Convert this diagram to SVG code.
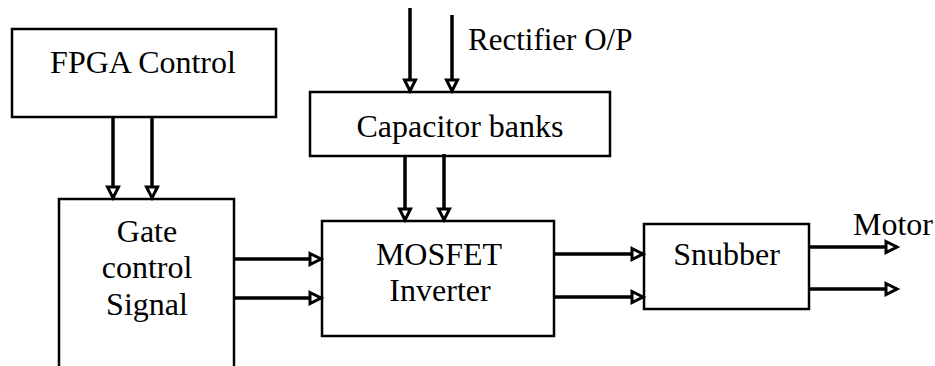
<svg xmlns="http://www.w3.org/2000/svg" width="935" height="366" viewBox="0 0 935 366">
<style>
.box{fill:#fff;stroke:#000;stroke-width:2.5}
.lbl{font-family:'Liberation Serif','Times New Roman',serif;font-size:32px;fill:#000;text-anchor:middle}
.wire{stroke:#000;stroke-width:3.5;fill:none;marker-end:url(#ah)}
</style>
<defs>
<marker id="ah" markerUnits="userSpaceOnUse" markerWidth="16" markerHeight="16" refX="12" refY="6.5" orient="auto" overflow="visible">
<path d="M1,1 L12,6.5 L1,12 Z" fill="#fff" stroke="#000" stroke-width="3" stroke-linejoin="miter"/>
</marker>
</defs>
<rect width="935" height="366" fill="#fff"/>
<g id="fpga">
<rect class="box" x="12" y="29" width="264" height="88"/>
<text class="lbl" x="143" y="73">FPGA Control</text>
</g>
<g id="gate">
<rect class="box" x="59" y="199" width="175" height="190"/>
<text class="lbl" x="147" y="242">Gate</text>
<text class="lbl" x="147" y="278">control</text>
<text class="lbl" x="147" y="315">Signal</text>
</g>
<g id="capacitor">
<rect class="box" x="310" y="92" width="300" height="64"/>
<text class="lbl" x="460" y="137">Capacitor banks</text>
</g>
<g id="mosfet">
<rect class="box" x="322" y="221" width="232" height="115"/>
<text class="lbl" x="439" y="265">MOSFET</text>
<text class="lbl" x="440" y="301">Inverter</text>
</g>
<g id="snubber">
<rect class="box" x="644" y="224" width="165" height="85"/>
<text class="lbl" x="726.5" y="265">Snubber</text>
</g>
<g id="rectifier-label">
<text class="lbl" x="468" y="50" style="text-anchor:start;font-size:31px">Rectifier O/P</text>
</g>
<g id="motor-label">
<text class="lbl" x="853" y="235" style="text-anchor:start">Motor</text>
</g>
<g id="connectors">
<line class="wire" x1="113" y1="117" x2="113" y2="198"/>
<line class="wire" x1="152" y1="117" x2="152" y2="198"/>
<line class="wire" x1="410" y1="8" x2="410" y2="91"/>
<line class="wire" x1="452" y1="15" x2="452" y2="91"/>
<line class="wire" x1="405" y1="156" x2="405" y2="220"/>
<line class="wire" x1="444" y1="154" x2="444" y2="220"/>
<line class="wire" x1="234" y1="259" x2="321" y2="259"/>
<line class="wire" x1="234" y1="298" x2="321" y2="298"/>
<line class="wire" x1="554" y1="254" x2="643" y2="254"/>
<line class="wire" x1="554" y1="297" x2="643" y2="297"/>
<line class="wire" x1="809" y1="247" x2="897" y2="247"/>
<line class="wire" x1="809" y1="289" x2="897" y2="289"/>
</g>
</svg>
